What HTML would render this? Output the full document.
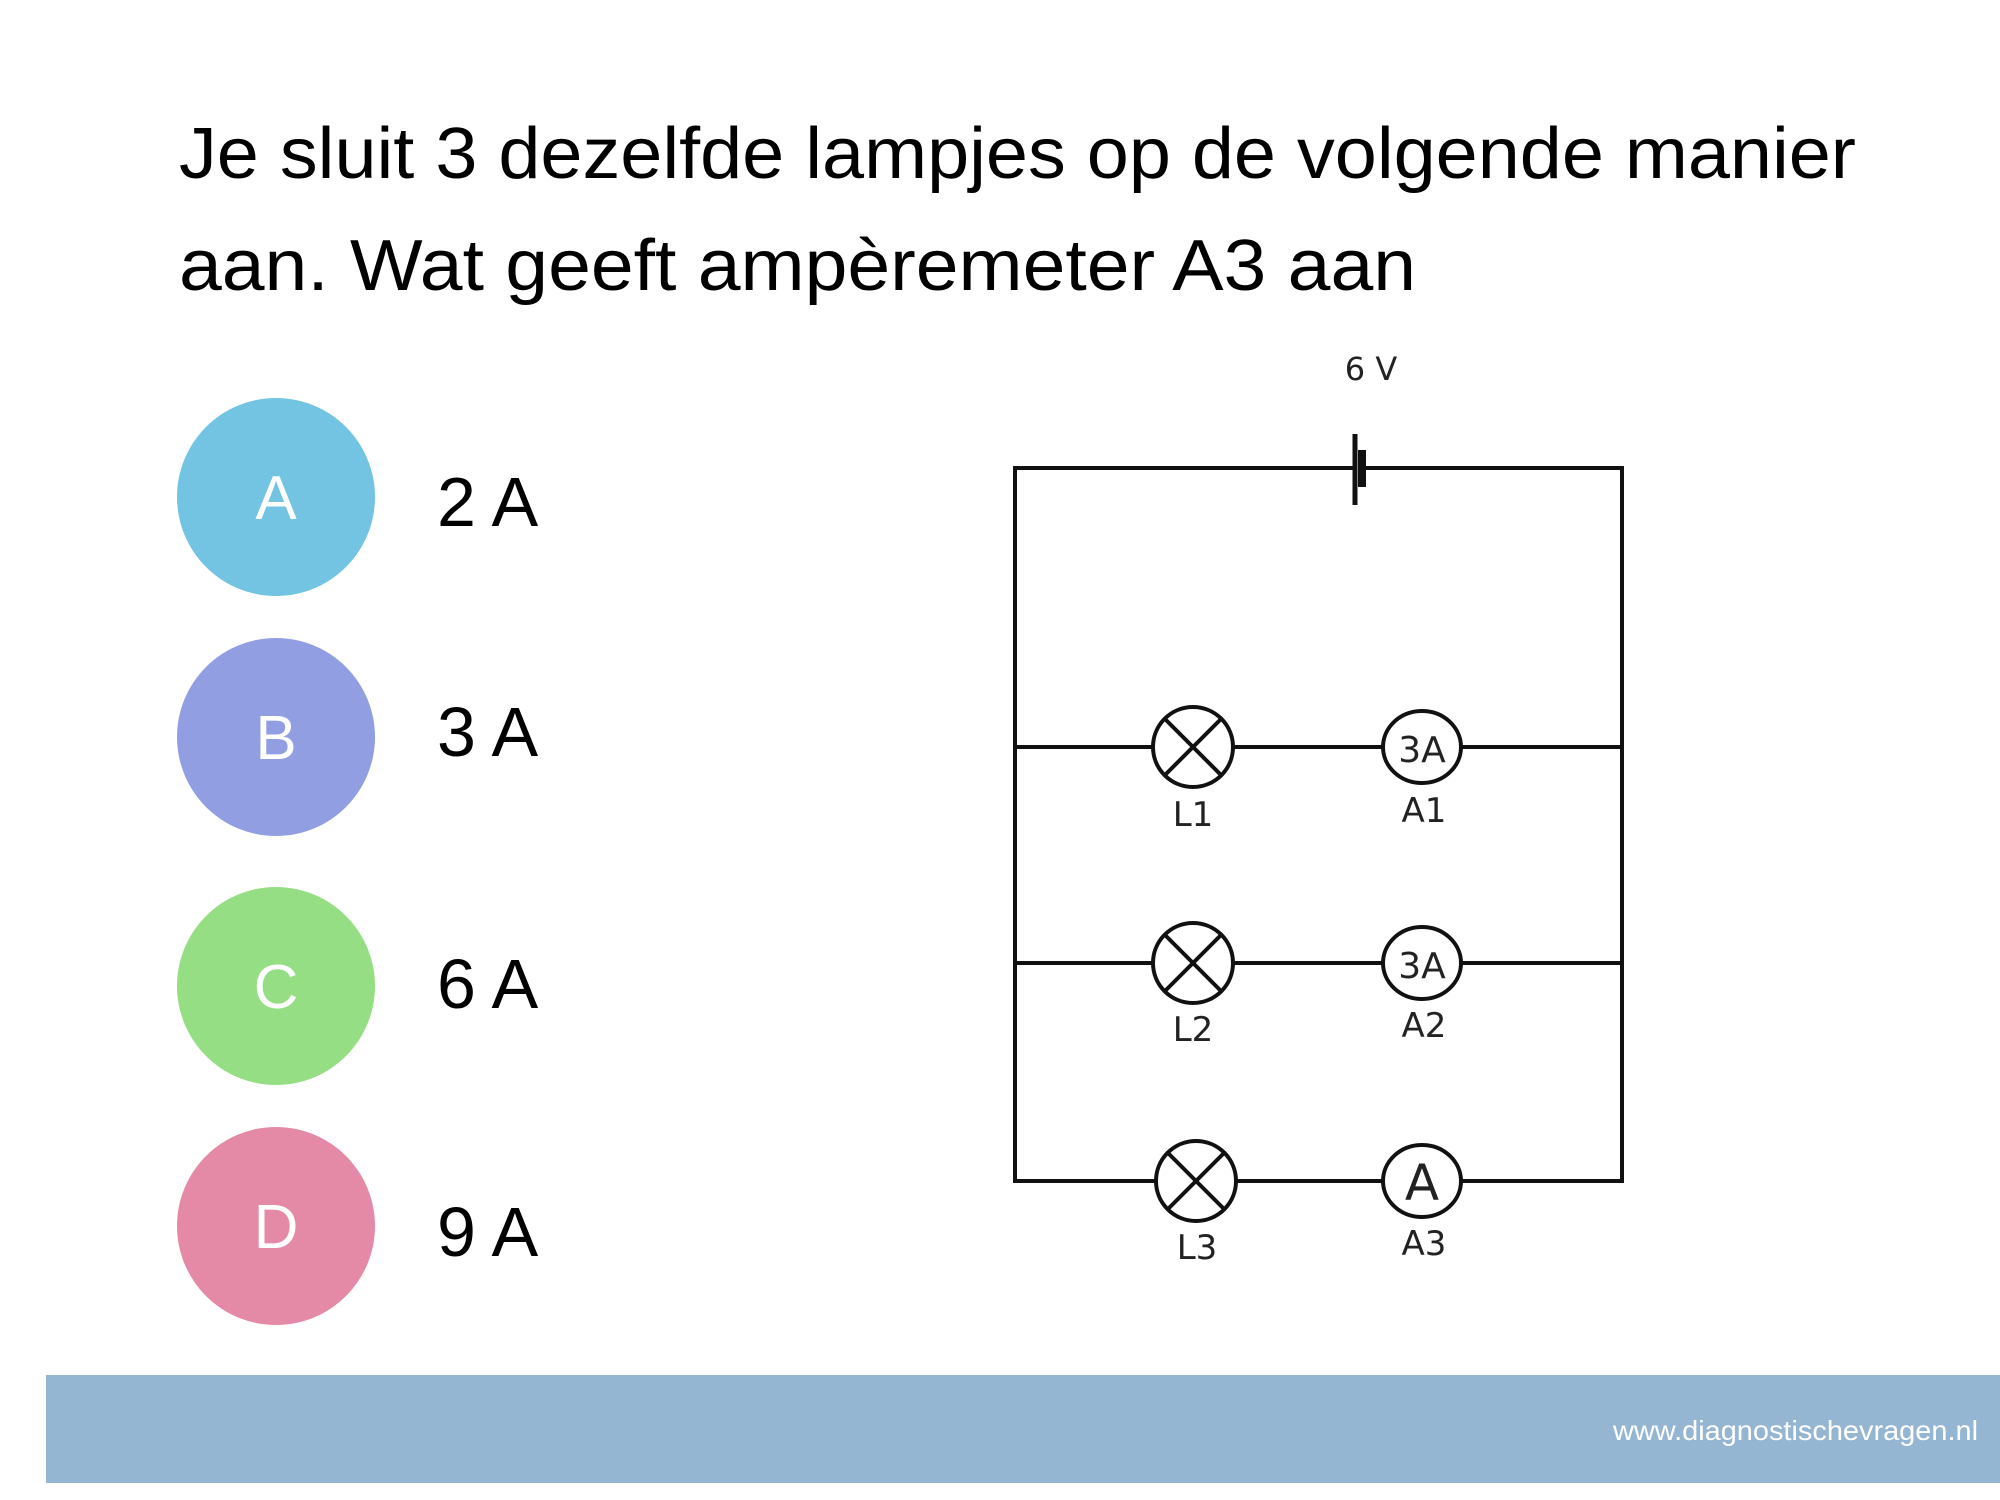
<!DOCTYPE html>
<html><head><meta charset="utf-8"><style>
html,body{margin:0;padding:0;background:#fff;}
svg{display:block;}
</style></head><body>
<svg width="2000" height="1500" viewBox="0 0 2000 1500" xmlns="http://www.w3.org/2000/svg">
<rect width="2000" height="1500" fill="#fff"/>
<g font-family="'Liberation Sans', 'DejaVu Sans', sans-serif" fill="#000">
<text x="179" y="178" font-size="72" textLength="1677" lengthAdjust="spacingAndGlyphs">Je sluit 3 dezelfde lampjes op de volgende manier</text>
<text x="179" y="290" font-size="72" textLength="1237" lengthAdjust="spacingAndGlyphs">aan. Wat geeft ampèremeter A3 aan</text>
</g>
<circle cx="276" cy="497" r="99" fill="#73c3e2"/>
<circle cx="276" cy="737" r="99" fill="#929ee2"/>
<circle cx="276" cy="986" r="99" fill="#95de84"/>
<circle cx="276" cy="1226" r="99" fill="#e48aa6"/>
<g font-family="'Liberation Sans', sans-serif" fill="#fff" font-size="62" text-anchor="middle">
<text x="276" y="519">A</text>
<text x="276" y="759">B</text>
<text x="276" y="1008">C</text>
<text x="276" y="1248">D</text>
</g>
<g font-family="'Liberation Sans', sans-serif" fill="#000" font-size="70">
<text x="437" y="526">2 A</text>
<text x="437" y="756">3 A</text>
<text x="437" y="1008">6 A</text>
<text x="437" y="1256">9 A</text>
</g>
<rect x="46" y="1375" width="1954" height="108" fill="#95b6d3"/>
<text x="1978" y="1440" font-family="'Liberation Sans', sans-serif" font-size="28" fill="#fff" text-anchor="end" textLength="365" lengthAdjust="spacingAndGlyphs">www.diagnostischevragen.nl</text>
<g stroke="#111" stroke-width="4" fill="none">
<polyline points="1355,468 1015,468 1015,1181 1156,1181"/>
<polyline points="1364,468 1622,468 1622,1181 1460,1181"/>
<line x1="1015" y1="747" x2="1153" y2="747"/><line x1="1233" y1="747" x2="1384" y2="747"/><line x1="1460" y1="747" x2="1622" y2="747"/>
<line x1="1015" y1="963" x2="1153" y2="963"/><line x1="1233" y1="963" x2="1384" y2="963"/><line x1="1460" y1="963" x2="1622" y2="963"/>
<line x1="1236" y1="1181" x2="1384" y2="1181"/>
<line x1="1355" y1="434" x2="1355" y2="505" stroke-width="5"/>
<line x1="1362" y1="450" x2="1362" y2="487" stroke-width="8"/>
<circle cx="1193" cy="747" r="40"/><line x1="1165" y1="719" x2="1221" y2="775"/><line x1="1221" y1="719" x2="1165" y2="775"/>
<circle cx="1193" cy="963" r="40"/><line x1="1165" y1="935" x2="1221" y2="991"/><line x1="1221" y1="935" x2="1165" y2="991"/>
<circle cx="1196" cy="1181" r="40"/><line x1="1168" y1="1153" x2="1224" y2="1209"/><line x1="1224" y1="1153" x2="1168" y2="1209"/>
<ellipse cx="1422" cy="747" rx="39" ry="36"/>
<ellipse cx="1422" cy="963" rx="39" ry="36"/>
<ellipse cx="1422" cy="1181" rx="39" ry="36"/>
</g>
<g font-family="'DejaVu Sans', sans-serif" fill="#222" text-anchor="middle">
<text x="1371" y="380" font-size="32">6 V</text>
<text x="1422" y="762" font-size="36">3A</text>
<text x="1422" y="978" font-size="36">3A</text>
<text x="1422" y="1200" font-size="50">A</text>
<text x="1193" y="826" font-size="34">L1</text>
<text x="1424" y="822" font-size="34">A1</text>
<text x="1193" y="1041" font-size="34">L2</text>
<text x="1424" y="1037" font-size="34">A2</text>
<text x="1197" y="1259" font-size="34">L3</text>
<text x="1424" y="1255" font-size="34">A3</text>
</g>
</svg>
</body></html>
